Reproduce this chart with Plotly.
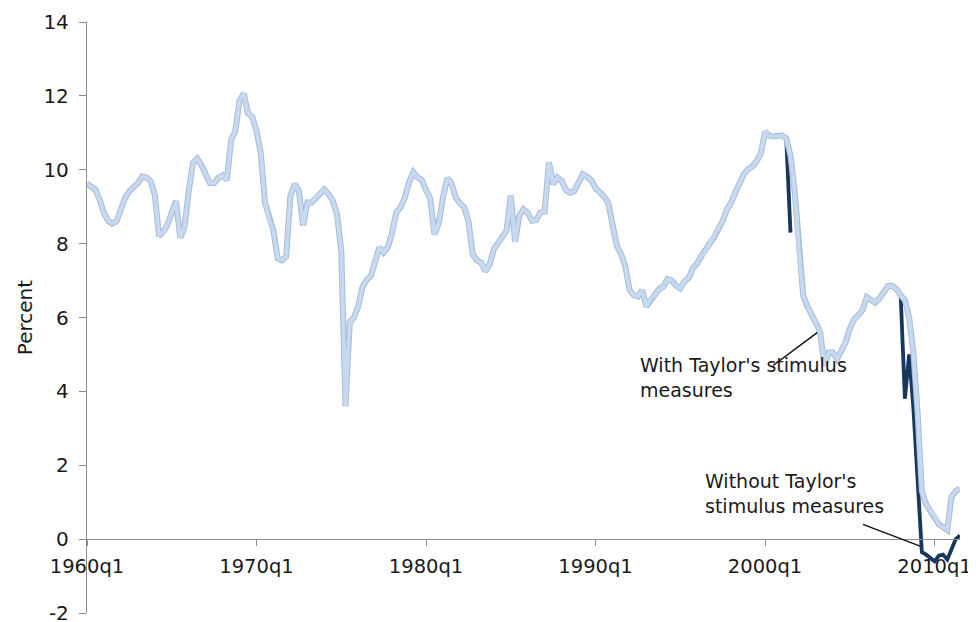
import plotly.graph_objects as go

# ---------------- data ----------------
years = list(range(1960, 2012))
quarters = [f"{y}q{q}" for y in years for q in range(1, 5)][:207]

# Policy rate path WITH Taylor's stimulus measures (light series), quarterly 1960q1-2011q3
with_taylor = [
    9.62, 9.55, 9.46, 9.19,    # 1960
    8.83, 8.61, 8.54, 8.61,    # 1961
    8.92, 9.24, 9.42, 9.52,    # 1962
    9.64, 9.82, 9.79, 9.69,    # 1963
    9.33, 8.20, 8.32, 8.52,    # 1964
    8.83, 9.15, 8.16, 8.43,    # 1965
    9.42, 10.18, 10.30, 10.13, # 1966
    9.87, 9.64, 9.64, 9.78,    # 1967
    9.85, 9.72, 10.80, 11.05,  # 1968
    11.88, 12.06, 11.52, 11.43,# 1969
    11.05, 10.45, 9.10, 8.67,  # 1970
    8.35, 7.60, 7.55, 7.65,    # 1971
    9.30, 9.61, 9.43, 8.49,    # 1972
    9.11, 9.11, 9.25, 9.38,    # 1973
    9.47, 9.34, 9.16, 8.80,    # 1974
    7.80, 3.60, 5.87, 6.00,    # 1975
    6.30, 6.82, 7.02, 7.13,    # 1976
    7.54, 7.90, 7.76, 7.90,    # 1977
    8.30, 8.85, 8.98, 9.25,    # 1978
    9.66, 9.93, 9.79, 9.72,    # 1979
    9.45, 9.22, 8.25, 8.55,    # 1980
    9.25, 9.77, 9.63, 9.25,    # 1981
    9.09, 8.98, 8.62, 7.72,    # 1982
    7.54, 7.49, 7.25, 7.43,    # 1983
    7.85, 8.03, 8.21, 8.35,    # 1984
    9.30, 8.05, 8.75, 8.93,    # 1985
    8.84, 8.62, 8.64, 8.84,    # 1986
    8.87, 10.20, 9.61, 9.79,   # 1987
    9.70, 9.45, 9.38, 9.43,    # 1988
    9.65, 9.88, 9.81, 9.72,    # 1989
    9.50, 9.38, 9.28, 9.10,    # 1990
    8.45, 7.95, 7.72, 7.40,    # 1991
    6.75, 6.61, 6.57, 6.74,    # 1992
    6.30, 6.50, 6.62, 6.77,    # 1993
    6.84, 7.04, 7.00, 6.86,    # 1994
    6.79, 6.98, 7.07, 7.34,    # 1995
    7.47, 7.67, 7.81, 8.01,    # 1996
    8.18, 8.39, 8.62, 8.92,    # 1997
    9.11, 9.39, 9.67, 9.88,    # 1998
    10.01, 10.09, 10.23, 10.44,# 1999
    11.03, 10.92, 10.90, 10.90,# 2000
    10.93, 10.85, 10.38, 9.40, # 2001
    7.80, 6.60, 6.30, 6.10,    # 2002
    5.85, 5.60, 4.70, 5.05,    # 2003
    5.05, 4.88, 5.10, 5.33,    # 2004
    5.70, 5.95, 6.06, 6.20,    # 2005
    6.55, 6.47, 6.40, 6.52,    # 2006
    6.70, 6.85, 6.86, 6.77,    # 2007
    6.60, 6.47, 6.00, 5.05,    # 2008
    3.40, 1.30, 0.94, 0.78,    # 2009
    0.62, 0.40, 0.33, 0.25,    # 2010
    1.15, 1.30, 1.37,          # 2011
]

# Path WITHOUT Taylor's stimulus measures (dark series); only where it departs
without_taylor = [None] * 207
without_2001 = {"2001q2": 10.85, "2001q3": 8.30}
without_2008 = {
    "2008q1": 6.60, "2008q2": 3.80, "2008q3": 5.00, "2008q4": 3.55,
    "2009q1": 1.60, "2009q2": -0.35, "2009q3": -0.42, "2009q4": -0.50,
    "2010q1": -0.60, "2010q2": -0.45, "2010q3": -0.42, "2010q4": -0.55,
    "2011q1": -0.25, "2011q2": 0.00, "2011q3": 0.10,
}
for k, v in {**without_2001, **without_2008}.items():
    without_taylor[quarters.index(k)] = v

tick_labels = ["1960q1", "1970q1", "1980q1", "1990q1", "2000q1", "2010q1"]
y_ticks = list(range(-2, 15, 2))
y_tick_labels = [str(v) for v in y_ticks]   # plain hyphen for "-2"

# annotation pointer lines (quarter index, percent)
with_pointer = ((161.9, 4.70), (172.3, 5.59))
without_pointer = ((183.1, 0.40), (196.6, -0.19))

# ---------------- figure ----------------
FONT = "Verdana, DejaVu Sans, sans-serif"
LIGHT = "#c6d9f1"
LIGHT_EDGE = "#a9bcd6"
DARK = "#17375e"
AXIS = "#8c8c8c"
TXT = "#1a1a1a"

idx = list(range(len(quarters)))
tickvals = [quarters.index(t) for t in tick_labels]

fig = go.Figure()
fig.add_trace(go.Scatter(x=idx, y=without_taylor, mode="lines",
                         line=dict(color=DARK, width=3.8), connectgaps=False,
                         name="Without Taylor's stimulus measures", hoverinfo="skip"))
fig.add_trace(go.Scatter(x=idx, y=with_taylor, mode="lines",
                         line=dict(color=LIGHT_EDGE, width=6),
                         name="edge", hoverinfo="skip"))
fig.add_trace(go.Scatter(x=idx, y=with_taylor, mode="lines",
                         line=dict(color=LIGHT, width=4),
                         name="With Taylor's stimulus measures", hoverinfo="skip"))

for (p0, p1) in (with_pointer, without_pointer):
    fig.add_shape(type="line", xref="x", yref="y", x0=p0[0], y0=p0[1], x1=p1[0], y1=p1[1],
                  line=dict(color="#111111", width=1.5))

fig.add_annotation(x=130.0, y=4.385, xref="x", yref="y", xanchor="left", yanchor="middle",
                   text="With Taylor's stimulus<br>measures", showarrow=False, align="left",
                   font=dict(family=FONT, size=19, color=TXT))
fig.add_annotation(x=145.3, y=1.23, xref="x", yref="y", xanchor="left", yanchor="middle",
                   text="Without Taylor's<br>stimulus measures", showarrow=False, align="left",
                   font=dict(family=FONT, size=19, color=TXT))

# the page body adds an 8px margin; size the figure so the plot area lands where the
# reference has it (plot area x 87-960, y 22-613 in window pixels)
fig.update_layout(
    width=968, height=614, autosize=False,
    margin=dict(l=79, r=16, t=14, b=9),
    paper_bgcolor="white", plot_bgcolor="white",
    showlegend=False,
    font=dict(family=FONT, size=20, color=TXT),
    xaxis=dict(range=[0, len(quarters) - 1], tickvals=tickvals, ticktext=tick_labels,
               ticks="outside", ticklen=6, tickwidth=1.3, tickcolor=AXIS,
               showline=True, linecolor=AXIS, linewidth=1.3, automargin=False,
               showgrid=False, zeroline=False, anchor="free", position=2 / 16,
               ticklabelstandoff=3, ticklabeloverflow="allow",
               tickfont=dict(family=FONT, size=19.5, color=TXT)),
    yaxis=dict(range=[-2, 14], tickvals=y_ticks, ticktext=y_tick_labels, ticks="outside",
               ticklen=7, tickwidth=1.3, tickcolor=AXIS, showline=True, linecolor=AXIS,
               linewidth=1.3, showgrid=False, zeroline=False, ticklabelstandoff=6,
               automargin=False, ticklabeloverflow="allow",
               tickfont=dict(family=FONT, size=20, color=TXT),
               title=dict(text="Percent", font=dict(family=FONT, size=20, color=TXT),
                          standoff=5)),
)

fig.write_html("out.html")
